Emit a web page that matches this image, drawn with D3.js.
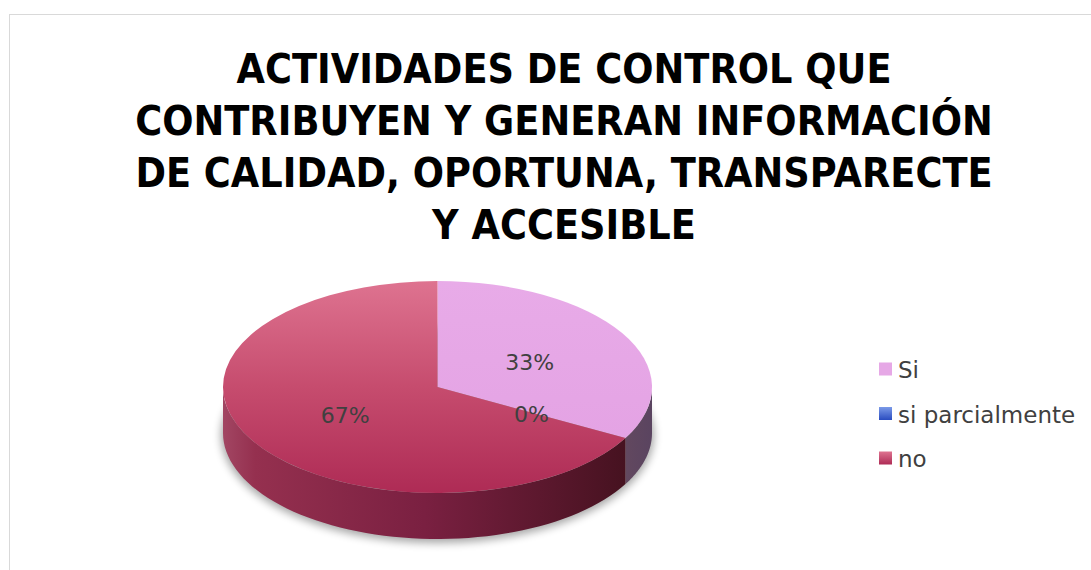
<!DOCTYPE html>
<html>
<head>
<meta charset="utf-8">
<script src="https://cdn.jsdelivr.net/npm/d3@7"></script>
<style>
  body { margin: 0; background: #fff; }
  svg { display: block; }
</style>
</head>
<body>
<div id="chart"></div>
<script>
// data
const categories = ["Si", "si parcialmente", "no"];
const values = [33, 0, 67];
const labels = ["33%", "0%", "67%"];
const titleLines = [
  "ACTIVIDADES DE CONTROL QUE",
  "CONTRIBUYEN Y GENERAN INFORMACIÓN",
  "DE CALIDAD, OPORTUNA, TRANSPARECTE",
  "Y ACCESIBLE"
];

const width = 1091, height = 570;
const cx = 437.5, cy = 387, rx = 214.5, ry = 106, depth = 46;

const svg = d3.select("#chart").append("svg")
  .attr("width", width)
  .attr("height", height);

const defs = svg.append("defs");

function linGrad(id, x2, y2, stops) {
  const g = defs.append("linearGradient").attr("id", id)
    .attr("x1", 0).attr("y1", 0).attr("x2", x2).attr("y2", y2);
  stops.forEach(s => g.append("stop").attr("offset", s[0]).attr("stop-color", s[1]));
}
linGrad("topSi", 0, 1, [[0, "#e8abe8"], [1, "#e4a3e4"]]);
linGrad("topPar", 0, 1, [[0, "#7b9ae8"], [1, "#2a4cc0"]]);
linGrad("topNo", 0, 1, [[0, "#de7390"], [0.5, "#c64c6e"], [1, "#ae2b55"]]);
linGrad("sideSi", 1, 0, [[0, "#62485f"], [1, "#5a4460"]]);
linGrad("sideNo", 1, 0, [[0, "#a24663"], [0.08, "#95304f"], [0.5, "#7a2041"], [1, "#461220"]]);
linGrad("legPar", 0, 1, [[0, "#7b9ae8"], [1, "#2a4cc0"]]);
linGrad("legNo", 0, 1, [[0, "#de7390"], [1, "#ae2b55"]]);

const topFill = ["url(#topSi)", "url(#topPar)", "url(#topNo)"];
const sideFill = ["url(#sideSi)", "url(#sideSi)", "url(#sideNo)"];
const legendFill = ["#e6a8e6", "url(#legPar)", "url(#legNo)"];

defs.append("filter").attr("id", "blur")
  .attr("x", "-20%").attr("y", "-50%").attr("width", "140%").attr("height", "200%")
  .append("feGaussianBlur").attr("stdDeviation", 4);

// frame
svg.append("rect")
  .attr("x", 9.5).attr("y", 14.5)
  .attr("width", width + 20).attr("height", height + 20)
  .attr("fill", "#fff")
  .attr("stroke", "#d9d9d9");

// title (squeezed horizontally to mimic the wide bold face)
const titleX = 564;
const title = svg.append("text")
  .attr("transform", `translate(${titleX},0) scale(0.92,1)`)
  .attr("text-anchor", "middle")
  .attr("font-family", "'DejaVu Sans', sans-serif")
  .attr("font-weight", "bold")
  .attr("font-size", 40)
  .attr("fill", "#000");
titleLines.forEach((t, i) => {
  title.append("tspan")
    .attr("x", 0)
    .attr("y", 83 + i * 52)
    .text(t);
});

// pie
const pie = d3.pie().sort(null).value(d => d)
  .startAngle(0).endAngle(2 * Math.PI);
const arcs = pie(values);

const px = a => cx + rx * Math.sin(a);
const py = a => cy - ry * Math.cos(a);

// shadow
svg.append("ellipse")
  .attr("cx", cx).attr("cy", cy + depth + 2)
  .attr("rx", rx + 2).attr("ry", ry + 2)
  .attr("fill", "#000").attr("opacity", 0.35)
  .attr("filter", "url(#blur)");

// side walls (front half only: angles between PI/2 and 3PI/2)
const g = svg.append("g");
arcs.forEach((d, i) => {
  const a0 = Math.max(d.startAngle, Math.PI / 2);
  const a1 = Math.min(d.endAngle, 3 * Math.PI / 2);
  if (a1 <= a0) return;
  const steps = d3.range(0, 61).map(k => a0 + (a1 - a0) * k / 60);
  const topPts = steps.map(a => [px(a), py(a)]);
  const botPts = steps.slice().reverse().map(a => [px(a), py(a) + depth]);
  g.append("path")
    .attr("d", d3.line()(topPts.concat(botPts)) + "Z")
    .attr("fill", sideFill[i]);
});

// top faces
const arc = d3.arc().innerRadius(0).outerRadius(rx);
const topG = svg.append("g")
  .attr("transform", `translate(${cx},${cy}) scale(1,${ry / rx})`);
topG.selectAll("path")
  .data(arcs)
  .join("path")
  .attr("d", arc)
  .attr("fill", (d, i) => topFill[i]);

// data labels
svg.selectAll(".lbl")
  .data(arcs)
  .join("text")
  .attr("class", "lbl")
  .attr("x", d => cx + 0.5 * rx * Math.sin((d.startAngle + d.endAngle) / 2))
  .attr("y", d => cy + 2 - 0.5 * ry * Math.cos((d.startAngle + d.endAngle) / 2))
  .attr("text-anchor", "middle")
  .attr("dominant-baseline", "central")
  .attr("font-family", "'DejaVu Sans', sans-serif")
  .attr("font-size", 22)
  .attr("fill", "#404040")
  .text((d, i) => labels[i]);

// legend
const legend = svg.append("g").attr("transform", "translate(879, 369)");
const item = legend.selectAll("g")
  .data(categories)
  .join("g")
  .attr("transform", (d, i) => `translate(0, ${i * 44.5})`);
item.append("rect")
  .attr("x", 0).attr("y", -6.5)
  .attr("width", 13).attr("height", 13)
  .attr("fill", (d, i) => legendFill[i]);
item.append("text")
  .attr("x", 19).attr("y", 1)
  .attr("dominant-baseline", "central")
  .attr("font-family", "'DejaVu Sans', sans-serif")
  .attr("font-size", 23)
  .attr("fill", "#404040")
  .text(d => d);
</script>
</body>
</html>
